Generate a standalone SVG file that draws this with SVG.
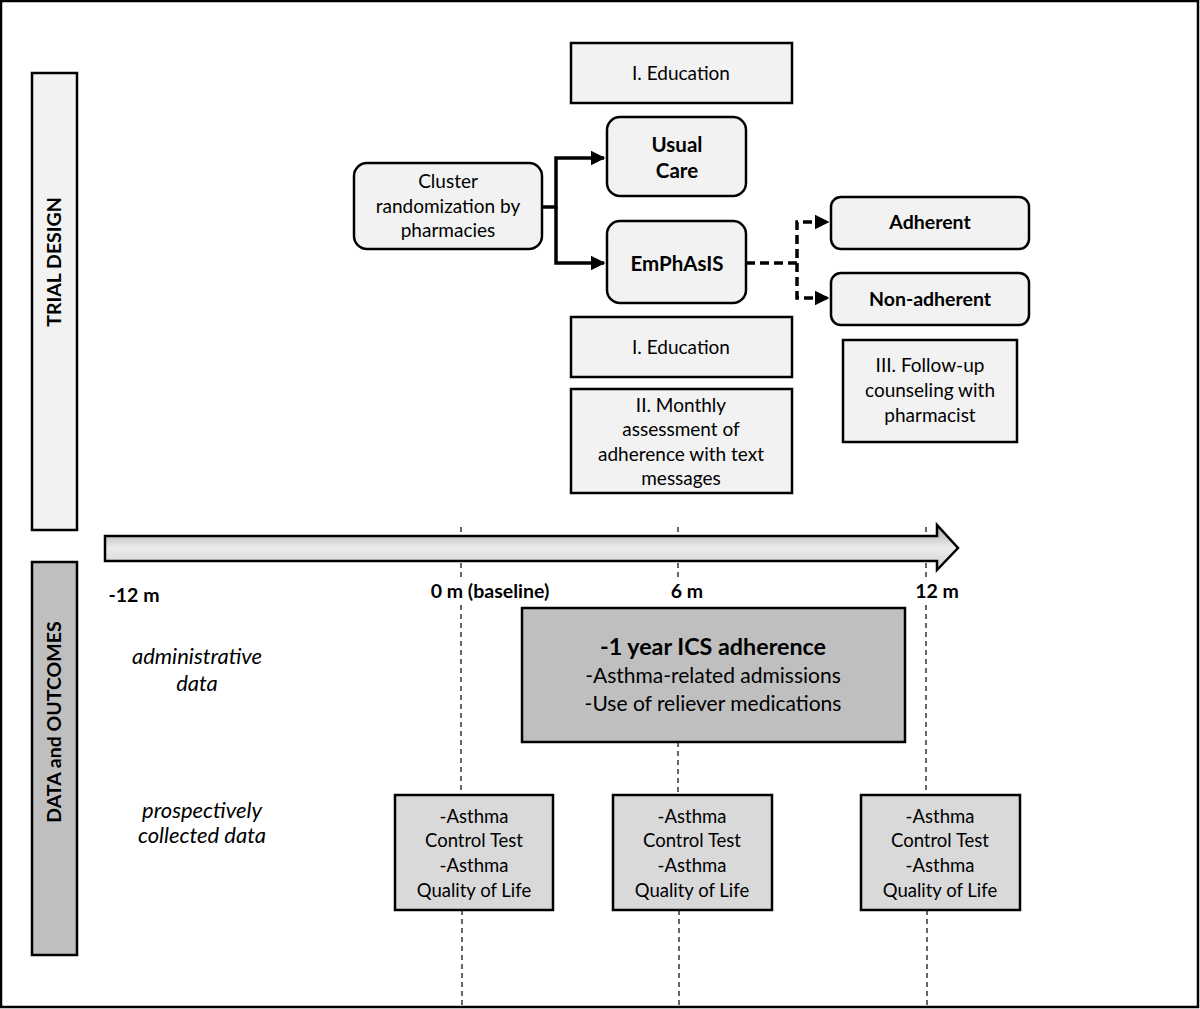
<svg xmlns="http://www.w3.org/2000/svg" width="1200" height="1009" viewBox="0 0 1200 1009">
<style>
text{font-family:Lato,"Open Sans","Liberation Sans",sans-serif;fill:#000;text-anchor:middle}
.lt{fill:#f2f2f2;stroke:#000;stroke-width:2.5}
.md{fill:#bfbfbf;stroke:#000;stroke-width:2.5}
.sm{fill:#d9d9d9;stroke:#000;stroke-width:2.5}
.t18{font-size:19px}
.p18{font-size:18.5px}
.b20{font-size:20.5px;font-weight:bold}
.b18{font-size:19.5px;font-weight:bold}
.bt{font-size:19.5px;font-weight:bold}
.i19{font-size:22px;font-style:italic}
.vd{stroke:#000;stroke-width:1.2;stroke-dasharray:5,4;fill:none}
.con{stroke:#000;stroke-width:3.5;fill:none}
.dash{stroke:#000;stroke-width:3.5;fill:none;stroke-dasharray:9,5}
</style>
<defs>
<marker id="ah" viewBox="0 0 10 10" refX="9" refY="5" markerWidth="4.2" markerHeight="4.2" orient="auto" markerUnits="strokeWidth">
<path d="M0,0 L10,5 L0,10 z" fill="#000"/>
</marker>
<linearGradient id="ag" x1="0" y1="0" x2="0" y2="1">
<stop offset="0" stop-color="#a6a6a6"/>
<stop offset="0.5" stop-color="#ececec"/>
<stop offset="1" stop-color="#d0d0d0"/>
</linearGradient>
</defs>
<rect x="1" y="1" width="1197" height="1006" fill="#fff" stroke="#000" stroke-width="2.5"/>

<g id="timeline-guides">
<line class="vd" x1="461" y1="527" x2="461" y2="580"/>
<line class="vd" x1="461" y1="605" x2="461" y2="795"/>
<line class="vd" x1="462" y1="910" x2="462" y2="1007"/>
<line class="vd" x1="678" y1="527" x2="678" y2="580"/>
<line class="vd" x1="678" y1="742" x2="678" y2="795"/>
<line class="vd" x1="679" y1="910" x2="679" y2="1007"/>
<line class="vd" x1="926" y1="527" x2="926" y2="580"/>
<line class="vd" x1="926" y1="605" x2="926" y2="795"/>
<line class="vd" x1="927" y1="910" x2="927" y2="1007"/>
</g>

<g id="trial-design-bar">
<rect x="32" y="73" width="45" height="457" class="lt"/>
<text class="bt" transform="translate(61,262) rotate(-90)">TRIAL DESIGN</text>
</g>
<g id="data-bar">
<rect x="32" y="562" width="45" height="393" class="md"/>
<text class="bt" transform="translate(61,722) rotate(-90)">DATA and OUTCOMES</text>
</g>

<g id="timeline-arrow">
<path d="M105,536 L937,536 L937,525 L958,548 L937,570 L937,561 L105,561 z" fill="url(#ag)" stroke="#000" stroke-width="2.5" stroke-linejoin="miter"/>
</g>

<g id="connectors">
<path class="con" d="M542,207 H556 V158 H604" marker-end="url(#ah)"/>
<path class="con" d="M556,207 V263 H604" marker-end="url(#ah)"/>
<path class="dash" d="M746,263 H797 V222 H828" marker-end="url(#ah)"/>
<path class="dash" d="M797,263 V298 H828" marker-end="url(#ah)"/>
</g>

<g id="education-top">
<rect x="571" y="43" width="221" height="60" class="lt"/>
<text class="t18" x="681" y="80">I. Education</text>
</g>
<g id="usual-care">
<rect x="607" y="117" width="139" height="79" rx="13" class="lt"/>
<text class="b20" x="677" y="152">Usual</text>
<text class="b20" x="677" y="178">Care</text>
</g>
<g id="cluster">
<rect x="354" y="163" width="188" height="86" rx="13" class="lt"/>
<text class="t18" x="448" y="188">Cluster</text>
<text class="t18" x="448" y="213">randomization by</text>
<text class="t18" x="448" y="237">pharmacies</text>
</g>
<g id="emphasis">
<rect x="607" y="221" width="139" height="82" rx="13" class="lt"/>
<text class="b20" x="677" y="271">EmPhAsIS</text>
</g>
<g id="adherent">
<rect x="831" y="197" width="198" height="52" rx="10" class="lt"/>
<text class="b18" x="930" y="229">Adherent</text>
</g>
<g id="non-adherent">
<rect x="831" y="273" width="198" height="52" rx="10" class="lt"/>
<text class="b18" x="930" y="306">Non-adherent</text>
</g>
<g id="education-bottom">
<rect x="571" y="317" width="221" height="60" class="lt"/>
<text class="t18" x="681" y="354">I. Education</text>
</g>
<g id="monthly">
<rect x="571" y="389" width="221" height="104" class="lt"/>
<text class="t18" x="681" y="412">II. Monthly</text>
<text class="t18" x="681" y="436">assessment of</text>
<text class="t18" x="681" y="461">adherence with text</text>
<text class="t18" x="681" y="485">messages</text>
</g>
<g id="follow-up">
<rect x="843" y="340" width="174" height="102" class="lt"/>
<text class="t18" x="930" y="372">III. Follow-up</text>
<text class="t18" x="930" y="397">counseling with</text>
<text class="t18" x="930" y="422">pharmacist</text>
</g>

<g id="time-labels">
<text class="b18" x="134" y="602">-12 m</text>
<text class="b18" x="490" y="598">0 m (baseline)</text>
<text class="b18" x="687" y="598">6 m</text>
<text class="b18" x="937" y="598">12 m</text>
</g>

<g id="row-labels">
<text class="i19" x="197" y="664">administrative</text>
<text class="i19" x="197" y="691">data</text>
<text class="i19" x="202" y="818">prospectively</text>
<text class="i19" x="202" y="843">collected data</text>
</g>

<g id="admin-box">
<rect x="522" y="608" width="383" height="134" class="md"/>
<text x="713" y="655" style="font-size:23.3px;font-weight:bold">-1 year ICS adherence</text>
<text x="713" y="683" style="font-size:21px">-Asthma-related admissions</text>
<text x="713" y="711" style="font-size:21px">-Use of reliever medications</text>
</g>

<g id="pro-0">
<rect x="395" y="795" width="158" height="115" class="sm"/>
<text class="p18" x="474" y="823">-Asthma</text>
<text class="p18" x="474" y="847">Control Test</text>
<text class="p18" x="474" y="872">-Asthma</text>
<text class="p18" x="474" y="897">Quality of Life</text>
</g>
<g id="pro-6">
<rect x="613" y="795" width="159" height="115" class="sm"/>
<text class="p18" x="692" y="823">-Asthma</text>
<text class="p18" x="692" y="847">Control Test</text>
<text class="p18" x="692" y="872">-Asthma</text>
<text class="p18" x="692" y="897">Quality of Life</text>
</g>
<g id="pro-12">
<rect x="861" y="795" width="159" height="115" class="sm"/>
<text class="p18" x="940" y="823">-Asthma</text>
<text class="p18" x="940" y="847">Control Test</text>
<text class="p18" x="940" y="872">-Asthma</text>
<text class="p18" x="940" y="897">Quality of Life</text>
</g>
</svg>
